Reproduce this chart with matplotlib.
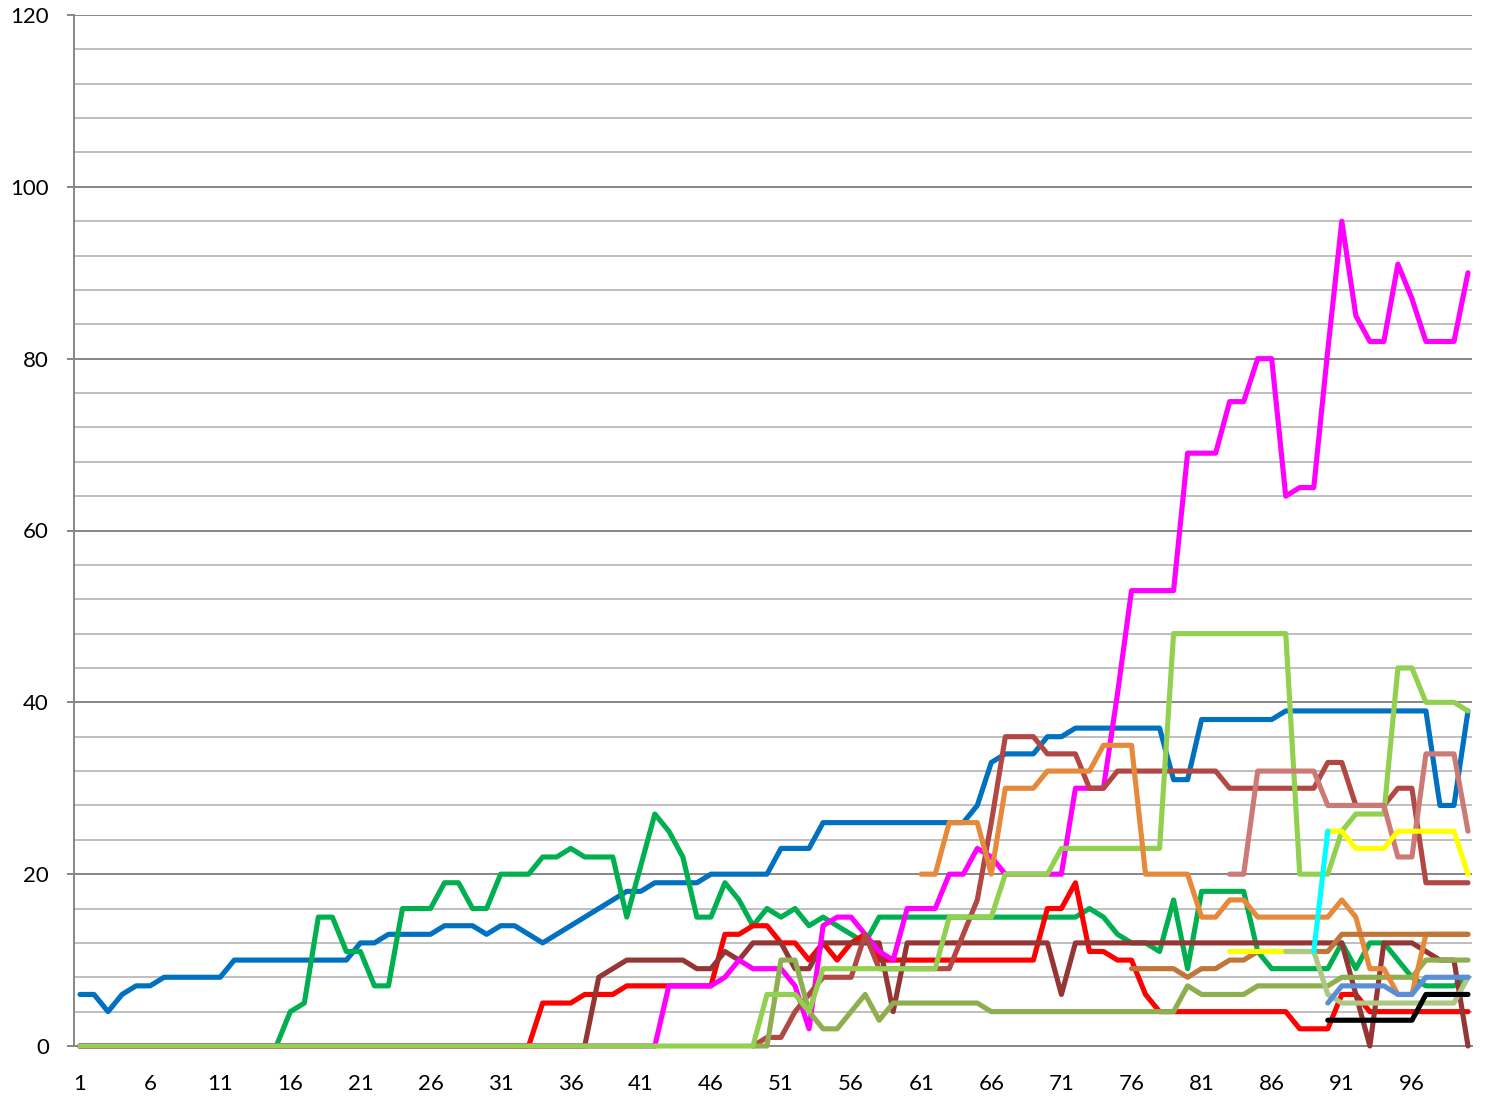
import matplotlib
matplotlib.use("Agg")
import matplotlib.pyplot as plt
from matplotlib.ticker import MultipleLocator
import numpy as np

plt.rcParams['font.family'] = ['Lato', 'DejaVu Sans']

# --- data: one list per series (x = 1..100) ---
blue = [6, 6, 4, 6, 7, 7, 8, 8, 8, 8,
        8, 10, 10, 10, 10, 10, 10, 10, 10, 10,
        12, 12, 13, 13, 13, 13, 14, 14, 14, 13,
        14, 14, 13, 12, 13, 14, 15, 16, 17, 18,
        18, 19, 19, 19, 19, 20, 20, 20, 20, 20,
        23, 23, 23, 26, 26, 26, 26, 26, 26, 26,
        26, 26, 26, 26, 28, 33, 34, 34, 34, 36,
        36, 37, 37, 37, 37, 37, 37, 37, 31, 31,
        38, 38, 38, 38, 38, 38, 39, 39, 39, 39,
        39, 39, 39, 39, 39, 39, 39, 28, 28, 39]

green = [0, 0, 0, 0, 0, 0, 0, 0, 0, 0,
         0, 0, 0, 0, 0, 4, 5, 15, 15, 11,
         11, 7, 7, 16, 16, 16, 19, 19, 16, 16,
         20, 20, 20, 22, 22, 23, 22, 22, 22, 15,
         21, 27, 25, 22, 15, 15, 19, 17, 14, 16,
         15, 16, 14, 15, 14, 13, 12, 15, 15, 15,
         15, 15, 15, 15, 15, 15, 15, 15, 15, 15,
         15, 15, 16, 15, 13, 12, 12, 11, 17, 9,
         18, 18, 18, 18, 11, 9, 9, 9, 9, 9,
         12, 9, 12, 12, 10, 8, 7, 7, 7, 8]

red = [0, 0, 0, 0, 0, 0, 0, 0, 0, 0,
       0, 0, 0, 0, 0, 0, 0, 0, 0, 0,
       0, 0, 0, 0, 0, 0, 0, 0, 0, 0,
       0, 0, 0, 5, 5, 5, 6, 6, 6, 7,
       7, 7, 7, 7, 7, 7, 13, 13, 14, 14,
       12, 12, 10, 12, 10, 12, 13, 10, 10, 10,
       10, 10, 10, 10, 10, 10, 10, 10, 10, 16,
       16, 19, 11, 11, 10, 10, 6, 4, 4, 4,
       4, 4, 4, 4, 4, 4, 4, 2, 2, 2,
       6, 6, 4, 4, 4, 4, 4, 4, 4, 4]

dark_brown = [0, 0, 0, 0, 0, 0, 0, 0, 0, 0,
              0, 0, 0, 0, 0, 0, 0, 0, 0, 0,
              0, 0, 0, 0, 0, 0, 0, 0, 0, 0,
              0, 0, 0, 0, 0, 0, 0, 8, 9, 10,
              10, 10, 10, 10, 9, 9, 11, 10, 12, 12,
              12, 9, 9, 12, 12, 12, 12, 12, 4, 12,
              12, 12, 12, 12, 12, 12, 12, 12, 12, 12,
              6, 12, 12, 12, 12, 12, 12, 12, 12, 12,
              12, 12, 12, 12, 12, 12, 12, 12, 12, 12,
              12, 6, 0, 12, 12, 12, 11, 10, 10, 0]

magenta = [0, 0, 0, 0, 0, 0, 0, 0, 0, 0,
           0, 0, 0, 0, 0, 0, 0, 0, 0, 0,
           0, 0, 0, 0, 0, 0, 0, 0, 0, 0,
           0, 0, 0, 0, 0, 0, 0, 0, 0, 0,
           0, 0, 7, 7, 7, 7, 8, 10, 9, 9,
           9, 7, 2, 14, 15, 15, 13, 11, 10, 16,
           16, 16, 20, 20, 23, 22, 20, 20, 20, 20,
           20, 30, 30, 30, 41, 53, 53, 53, 53, 69,
           69, 69, 75, 75, 80, 80, 64, 65, 65, 81,
           96, 85, 82, 82, 91, 87, 82, 82, 82, 90]

light_green = [0, 0, 0, 0, 0, 0, 0, 0, 0, 0,
               0, 0, 0, 0, 0, 0, 0, 0, 0, 0,
               0, 0, 0, 0, 0, 0, 0, 0, 0, 0,
               0, 0, 0, 0, 0, 0, 0, 0, 0, 0,
               0, 0, 0, 0, 0, 0, 0, 0, 0, 6,
               6, 6, 4, 9, 9, 9, 9, 9, 9, 9,
               9, 9, 15, 15, 15, 15, 20, 20, 20, 20,
               23, 23, 23, 23, 23, 23, 23, 23, 48, 48,
               48, 48, 48, 48, 48, 48, 48, 20, 20, 20,
               25, 27, 27, 27, 44, 44, 40, 40, 40, 39]

# series that begin part-way along the axis: (first x, values)
light_brown_start = 49
light_brown = [0, 1,
               1, 4, 6, 8, 8, 8, 13, 9, 9, 9,
               9, 9, 9, 13, 17, 26, 36, 36, 36, 34,
               34, 34, 30, 30, 32, 32, 32, 32, 32, 32,
               32, 32, 30, 30, 30, 30, 30, 30, 30, 33,
               33, 28, 28, 28, 30, 30, 19, 19, 19, 19]

olive_start = 49
olive = [0, 0,
         10, 10, 4, 2, 2, 4, 6, 3, 5, 5,
         5, 5, 5, 5, 5, 4, 4, 4, 4, 4,
         4, 4, 4, 4, 4, 4, 4, 4, 4, 7,
         6, 6, 6, 6, 7, 7, 7, 7, 7, 7,
         8, 8, 8, 8, 8, 8, 10, 10, 10, 10]

orange_start = 61
orange = [20, 20, 26, 26, 26, 20, 30, 30, 30, 32,
          32, 32, 32, 35, 35, 35, 20, 20, 20, 20,
          15, 15, 17, 17, 15, 15, 15, 15, 15, 15,
          17, 15, 9, 9, 6, 6, 13, 13, 13, 13]

copper_start = 76
copper = [9, 9, 9, 9, 8,
          9, 9, 10, 10, 11, 11, 11, 11, 11, 11,
          13, 13, 13, 13, 13, 13, 13, 13, 13, 13]

pink_start = 83
pink = [20, 20, 32, 32, 32, 32, 32, 28,
        28, 28, 28, 28, 22, 22, 34, 34, 34, 25]

yellow_start = 83
yellow = [11, 11, 11, 11, 11, None, None, 25,
          25, 23, 23, 23, 25, 25, 25, 25, 25, 20]

pale_green_start = 87
pale_green = [11, 11, 11, 6,
              5, 5, 5, 5, 5, 5, 5, 5, 5, 8]

cyan_start = 89
cyan = [11, 25]

light_blue_start = 90
light_blue = [5, 7, 7, 7, 7, 6, 6, 8, 8, 8, 8]

black_start = 90
black = [3, 3, 3, 3, 3, 3, 3, 6, 6, 6, 6]

x_labels = [1, 6, 11, 16, 21, 26, 31, 36, 41, 46, 51, 56, 61, 66, 71, 76, 81, 86, 91, 96]

# --- plot ---
fig = plt.figure(figsize=(14.85, 10.97), dpi=100)
ax = fig.add_axes([74 / 1485, 1 - 1046 / 1097, (1472 - 74) / 1485, (1046 - 15) / 1097])

series = [
    (1, blue, '#0070C0'),
    (1, green, '#00B050'),
    (1, red, '#FF0000'),
    (1, dark_brown, '#943634'),
    (1, magenta, '#FF00FF'),
    (light_brown_start, light_brown, '#B24843'),
    (olive_start, olive, '#8FAE50'),
    (1, light_green, '#92D050'),
    (orange_start, orange, '#E6893B'),
    (copper_start, copper, '#C07638'),
    (pink_start, pink, '#CC7A76'),
    (yellow_start, yellow, '#FFFF00'),
    (pale_green_start, pale_green, '#ADC785'),
    (cyan_start, cyan, '#00FFFF'),
    (light_blue_start, light_blue, '#5A8ED6'),
    (black_start, black, '#000000'),
]

for start, vals, col in series:
    y = np.array(vals, dtype=float)
    x = np.arange(start, start + len(y))
    ax.plot(x, y, color=col, lw=3.7, solid_joinstyle='round',
            solid_capstyle='round', clip_on=False, zorder=3)

ax.set_xlim(1 - 6 / 14.02, 100 + 4 / 14.02)
ax.set_ylim(0, 120)

ax.set_yticks(range(0, 121, 20))
ax.yaxis.set_minor_locator(MultipleLocator(4))
ax.set_xticks(x_labels)
ax.set_xticklabels([str(v) for v in x_labels])

ax.set_axisbelow(True)
ax.grid(which='minor', axis='y', color='#BFBFBF', lw=1.4)
ax.grid(which='major', axis='y', color='#868686', lw=1.4)

for side in ['top', 'right']:
    ax.spines[side].set_visible(False)
ax.spines['left'].set_color('#868686')
ax.spines['left'].set_linewidth(1.4)
ax.spines['bottom'].set_color('#868686')
ax.spines['bottom'].set_linewidth(1.4)

ax.tick_params(axis='y', which='major', length=5, width=1.4, color='#868686',
               labelsize=16, pad=13)
ax.tick_params(axis='y', which='minor', length=0)
ax.tick_params(axis='x', length=0, labelsize=16, pad=20)

fig.savefig('out.png', dpi=100)
